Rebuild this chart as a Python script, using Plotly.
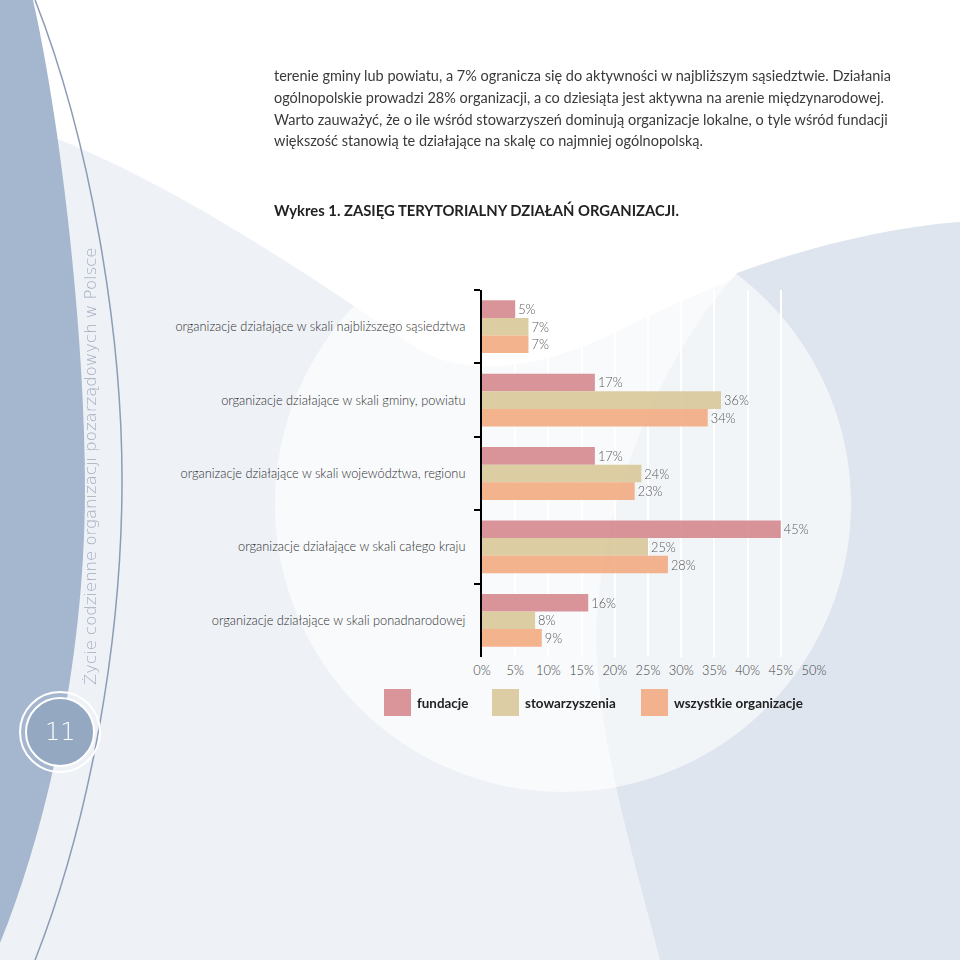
import plotly.graph_objects as go

# data
categories = [
    "organizacje działające w skali najbliższego sąsiedztwa",
    "organizacje działające w skali gminy, powiatu",
    "organizacje działające w skali województwa, regionu",
    "organizacje działające w skali całego kraju",
    "organizacje działające w skali ponadnarodowej",
]
fundacje = [5, 17, 17, 45, 16]
stowarzyszenia = [7, 36, 24, 25, 8]
wszystkie = [7, 34, 23, 28, 9]
series_names = ["fundacje", "stowarzyszenia", "wszystkie organizacje"]
series_colors = ["#d4868b", "#d8c697", "#f2a97e"]
x_ticks = [0, 5, 10, 15, 20, 25, 30, 35, 40, 45, 50]

paragraph = [
    "terenie gminy lub powiatu, a 7% ogranicza się do aktywności w najbliższym sąsiedztwie. Działania",
    "ogólnopolskie prowadzi 28% organizacji, a co dziesiąta jest aktywna na arenie międzynarodowej.",
    "Warto zauważyć, że o ile wśród stowarzyszeń dominują organizacje lokalne, o tyle wśród fundacji",
    "większość stanowią te działające na skalę co najmniej ogólnopolską.",
]
title_text = "Wykres 1. ZASIĘG TERYTORIALNY DZIAŁAŃ ORGANIZACJI."
side_text = "Życie codzienne organizacji pozarządowych w Polsce"
page_no = "11"

W = H = 960
FONT = "Lato"


def px(x):
    return x / W


def py(y):
    return 1 - y / H


def path(*cmds):
    out = []
    for c in cmds:
        letter, pts = c[0], c[1:]
        out.append(letter + " ".join(f"{px(a):.4f},{py(b):.4f}" for a, b in pts))
    return " ".join(out)


fig = go.Figure()
for name, vals, col in zip(series_names, [fundacje, stowarzyszenia, wszystkie], series_colors):
    fig.add_trace(go.Bar(
        name=name, y=categories, x=vals, orientation="h",
        marker=dict(color=col, line=dict(width=0)), opacity=0.88,
        text=[f"{v}%" for v in vals], textposition="outside", cliponaxis=False,
        textfont=dict(family=FONT, size=12.8, color="#3f3f3f", weight=300),
        showlegend=False, hoverinfo="x+y",
    ))

shapes = []
# light background region
shapes.append(dict(type="path", xref="paper", yref="paper", layer="below",
                   path=f"M0,{py(118):.4f} " + path(
                       ("C", (150, 165), (300, 270), (420, 350)),
                       ("C", (470, 378), (540, 370), (620, 330)),
                       ("C", (720, 280), (850, 230), (960, 222))) + " L1,0 L0,0 Z",
                   fillcolor="#eef2f7", line=dict(width=0)))
# darker region on the right
shapes.append(dict(type="path", xref="paper", yref="paper", layer="below",
                   path=f"M1,{py(222):.4f} " + path(
                       ("C", (880, 228), (800, 250), (737, 273)),
                       ("C", (640, 380), (590, 550), (597, 660)),
                       ("C", (603, 760), (640, 880), (660, 960))) + " L1,0 Z",
                   fillcolor="#dfe5ee", line=dict(width=0)))
# whitish circle behind the chart
shapes.append(dict(type="circle", xref="paper", yref="paper", layer="below",
                   x0=px(563 - 288), x1=px(563 + 288), y0=py(504 + 288), y1=py(504 - 288),
                   fillcolor="rgba(255,255,255,0.6)", line=dict(width=0)))
# blue band on the left
shapes.append(dict(type="path", xref="paper", yref="paper", layer="below",
                   path="M0,1 " + path(("L", (33, 0)),
                                       ("C", (60, 120), (85, 330), (85, 490)),
                                       ("C", (85, 650), (50, 820), (0, 943))) + " Z",
                   fillcolor="#a5b7ce", line=dict(width=0)))
# thin arc line
shapes.append(dict(type="path", xref="paper", yref="paper", layer="below",
                   path=f"M{px(35):.4f},1 " + path(("C", (90, 140), (122, 330), (122, 480)),
                                                   ("C", (122, 640), (90, 820), (35, 960))),
                   line=dict(color="#8c9cb5", width=1.5)))
# page number circle
shapes.append(dict(type="circle", xref="paper", yref="paper", layer="below",
                   x0=px(60 - 40), x1=px(60 + 40), y0=py(732 + 40), y1=py(732 - 40),
                   fillcolor="rgba(0,0,0,0)", line=dict(color="white", width=2)))
shapes.append(dict(type="circle", xref="paper", yref="paper", layer="below",
                   x0=px(60 - 34), x1=px(60 + 34), y0=py(732 + 34), y1=py(732 - 34),
                   fillcolor="#94a8c2", line=dict(color="white", width=2)))

annotations = []
for i, line in enumerate(paragraph):
    annotations.append(dict(text=line, x=px(272), y=py(75 + 22 * i), xref="paper", yref="paper",
                            xanchor="left", yanchor="middle", showarrow=False,
                            font=dict(family=FONT, size=14.5, color="#3a3a3a")))
annotations.append(dict(text="<b>" + title_text + "</b>", x=px(272), y=py(210), xref="paper",
                        yref="paper", xanchor="left", yanchor="middle", showarrow=False,
                        font=dict(family=FONT, size=14.8, color="#222222")))
annotations.append(dict(text=side_text, x=px(90), y=py(467), xref="paper", yref="paper",
                        xanchor="center", yanchor="middle", textangle=-90, showarrow=False,
                        font=dict(family="DejaVu Sans", size=16.5, color="#a3acbd", weight=300)))
annotations.append(dict(text=page_no, x=px(60), y=py(732), xref="paper", yref="paper",
                        xanchor="center", yanchor="middle", showarrow=False,
                        font=dict(family="DejaVu Sans", size=24, color="white", weight=300)))

# legend as coloured squares with bold labels
legend_x = [384, 492, 641]
for name, col, lx in zip(series_names, series_colors, legend_x):
    shapes.append(dict(type="rect", xref="paper", yref="paper", layer="above",
                       x0=px(lx), x1=px(lx + 27), y0=py(716), y1=py(689),
                       fillcolor=col, opacity=0.88, line=dict(width=0)))
    annotations.append(dict(text="<b>" + name + "</b>", x=px(lx + 31), y=py(703),
                            xref="paper", yref="paper", xanchor="left", yanchor="middle",
                            showarrow=False, font=dict(family=FONT, size=13.4, color="#222222")))

fig.update_layout(
    width=W, height=H, margin=dict(l=0, r=0, t=0, b=0, pad=0, autoexpand=False),
    autosize=False,
    paper_bgcolor="white", plot_bgcolor="rgba(0,0,0,0)",
    barmode="group", bargap=0.28, bargroupgap=0,
    shapes=shapes, annotations=annotations,
    font=dict(family=FONT, color="#444444"),
)
fig.update_xaxes(domain=[px(482), px(814)], range=[0, 50], tickvals=x_ticks,
                 ticktext=[f"{t}%" for t in x_ticks], showgrid=True, gridcolor="white",
                 gridwidth=2, zeroline=False, showline=False, ticks="", automargin=False,
                 ticklabelstandoff=4,
                 tickfont=dict(family=FONT, size=12.8, color="#3f3f3f", weight=300))
fig.update_yaxes(domain=[py(657), py(290)], categoryorder="array", categoryarray=categories,
                 autorange="reversed", showline=True, linecolor="black", linewidth=2,
                 ticks="outside", ticklen=6, tickwidth=2, tickcolor="black",
                 tickson="boundaries", showgrid=False, zeroline=False, automargin=False,
                 ticklabelstandoff=12,
                 tickfont=dict(family=FONT, size=12.8, color="#2e2e2e", weight=300))

fig.write_html("out.html", config={"displayModeBar": False},
               post_script="document.body.style.margin='0';document.body.style.overflow='hidden';")
